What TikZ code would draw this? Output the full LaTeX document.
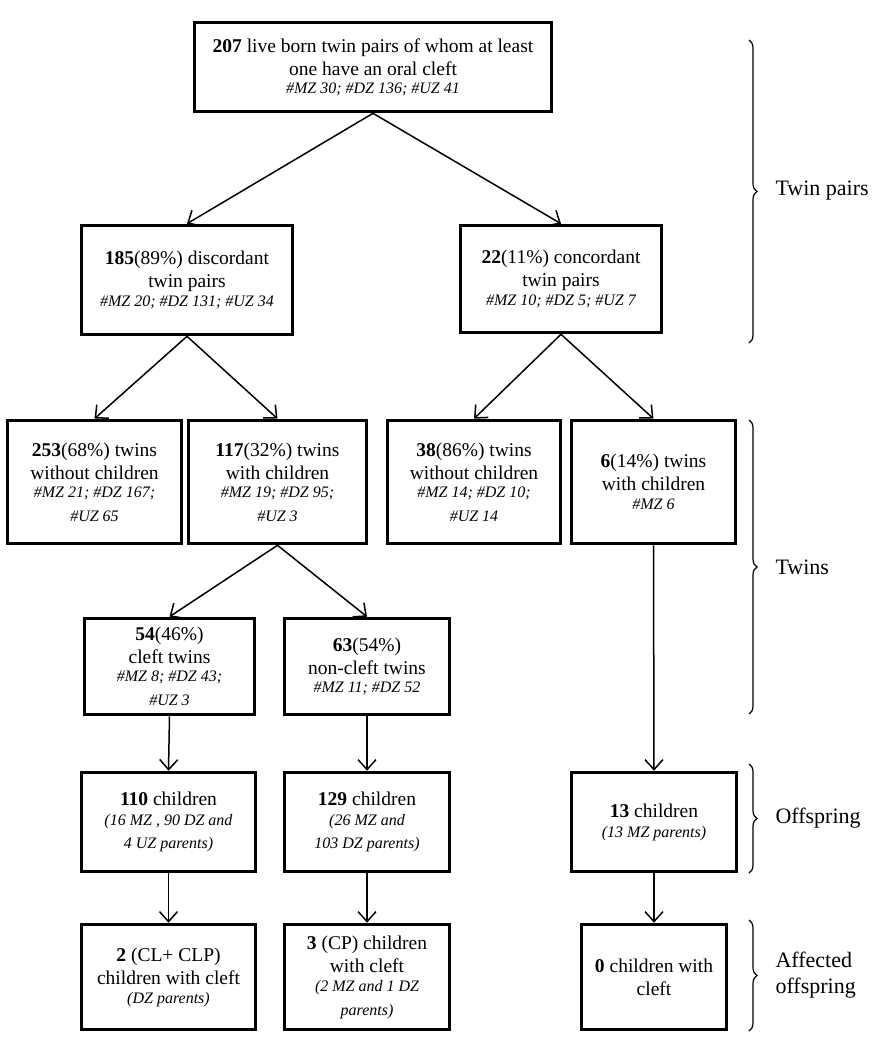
\documentclass[tikz,border=0pt]{standalone}
\usepackage{fontspec}
\setmainfont{Liberation Serif}
\usetikzlibrary{arrows.meta,decorations.pathreplacing}

\newcommand{\zyg}[1]{{\fontsize{16}{19}\selectfont\itshape #1}}

\begin{document}
\begin{tikzpicture}[x=1pt,y=-1pt]


 \tikzset{
    box/.style={
      rectangle,
      draw,
      line width=3.6pt,
      inner sep=0pt,
      align=center,
      font=\fontsize{19.5}{23}\selectfont
    },
    link/.style={
      line width=1.5pt,
      -{Straight Barb[length=10pt,width=18pt,line width=1.5pt]}
    },
    group/.style={
      decorate,
      decoration={brace,amplitude=8pt},
      line width=1.2pt
    },
    grouplabel/.style={
      anchor=west,
      align=left,
      font=\fontsize{22}{26}\selectfont
    }
  }

\useasboundingbox (0,0) rectangle (885,1050);

% twin pairs
\node[box,minimum width=357,minimum height=89] (top) at (373,67)
  {\textbf{207} live born twin pairs of whom at least\\ one have an oral cleft\\[-5pt] \zyg{\#MZ 30; \#DZ 136; \#UZ 41}};
\node[box,minimum width=211,minimum height=109] (disc) at (187,280)
  {\textbf{185}(89\%) discordant\\ twin pairs\\[-4pt] \zyg{\#MZ 20; \#DZ 131; \#UZ 34}};
\node[box,minimum width=201,minimum height=107] (conc) at (561,279)
  {\textbf{22}(11\%) concordant\\ twin pairs\\[-4pt] \zyg{\#MZ 10; \#DZ 5; \#UZ 7}};

% twins
\node[box,minimum width=174,minimum height=123] (nochA) at (94.5,482)
  {\textbf{253}(68\%) twins\\ without children\\[-5pt] \zyg{\#MZ 21; \#DZ 167;}\\[1pt] \zyg{\#UZ 65}};
\node[box,minimum width=178,minimum height=123] (chA) at (277.5,482)
  {\textbf{117}(32\%) twins\\ with children\\[-5pt] \zyg{\#MZ 19; \#DZ 95;}\\[1pt] \zyg{\#UZ 3}};
\node[box,minimum width=173,minimum height=123] (nochB) at (474,482)
  {\textbf{38}(86\%) twins\\ without children\\[-5pt] \zyg{\#MZ 14; \#DZ 10;}\\[1pt] \zyg{\#UZ 14}};
\node[box,minimum width=164,minimum height=123] (chB) at (653.5,482)
  {\textbf{6}(14\%) twins\\ with children\\[-4pt] \zyg{\#MZ 6}};

\node[box,minimum width=170,minimum height=96] (cleft) at (169.5,666.5)
  {\textbf{54}(46\%)\\ cleft twins\\[-5pt] \zyg{\#MZ 8; \#DZ 43;}\\[1pt] \zyg{\#UZ 3}};
\node[box,minimum width=165,minimum height=96] (noncleft) at (367,666.5)
  {\textbf{63}(54\%)\\ non-cleft twins\\[-5pt] \zyg{\#MZ 11; \#DZ 52}};

% offspring
\node[box,minimum width=174,minimum height=99] (kidsA) at (168.5,822)
  {\textbf{110} children\\[-3pt] \zyg{(16 MZ , 90 DZ and}\\ \zyg{4 UZ parents)}};
\node[box,minimum width=165,minimum height=99] (kidsB) at (367,822)
  {\textbf{129} children\\[-3pt] \zyg{(26 MZ and}\\ \zyg{103 DZ parents)}};
\node[box,minimum width=165,minimum height=99] (kidsC) at (654,822)
  {\textbf{13} children\\[-3pt] \zyg{(13 MZ parents)}};

\node[box,minimum width=174,minimum height=105] (affA) at (168.5,977)
  {\textbf{2} (CL+ CLP)\\ children with cleft\\[-4pt] \zyg{(DZ parents)}};
\node[box,minimum width=165,minimum height=105] (affB) at (367,977)
  {\textbf{3} (CP) children\\ with cleft\\[-4pt] \zyg{(2 MZ and 1 DZ}\\[1pt] \zyg{parents)}};
\node[box,minimum width=145,minimum height=105] (affC) at (654,977)
  {\textbf{0} children with\\ cleft};

% arrows
\draw[link] (top.south) -- (disc.north);
\draw[link] (top.south) -- (conc.north);
\draw[link] (disc.south) -- (nochA.north);
\draw[link] (disc.south) -- (chA.north);
\draw[link] (conc.south) -- (nochB.north);
\draw[link] (conc.south) -- (chB.north);
\draw[link] (chA.south) -- (cleft.north);
\draw[link] (chA.south) -- (noncleft.north);
\draw[link] (cleft.south) -- (kidsA.north);
\draw[link] (noncleft.south) -- (kidsB.north);
\draw[link] (chB.south) -- (kidsC.north);
\draw[link] (kidsA.south) -- (affA.north);
\draw[link] (kidsB.south) -- (affB.north);
\draw[link] (kidsC.south) -- (affC.north);

% groups
\coordinate (tpA) at (749,40);   \coordinate (tpB) at (749,343);
\coordinate (twA) at (749,420);  \coordinate (twB) at (749,714);
\coordinate (ofA) at (749,764);  \coordinate (ofB) at (749,873);
\coordinate (afA) at (749,920);  \coordinate (afB) at (749,1031);

\draw[group] (tpA) -- (tpB);
\draw[group] (twA) -- (twB);
\draw[group] (ofA) -- (ofB);
\draw[group] (afA) -- (afB);

\node[grouplabel] (tplabel) at (772,191) {Twin pairs};
\node[grouplabel] (twlabel) at (772,567) {Twins};
\node[grouplabel] (oflabel) at (772,818) {Offspring};
\node[grouplabel] (aflabel) at (772,975) {Affected\\ offspring};
\end{tikzpicture}
\end{document}
